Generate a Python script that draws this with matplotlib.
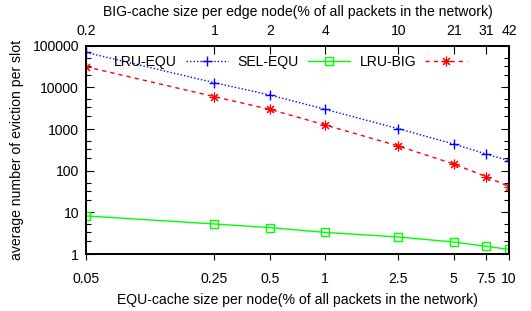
import matplotlib
matplotlib.use("Agg")
import matplotlib.pyplot as plt
from matplotlib.ticker import LogLocator, NullFormatter, FixedLocator, FixedFormatter

plt.rcParams['font.family'] = ['Liberation Sans', 'DejaVu Sans']

equ_sizes = [0.05, 0.25, 0.5, 1, 2.5, 5, 7.5, 10]
equ_labels = ["0.05", "0.25", "0.5", "1", "2.5", "5", "7.5", "10"]
big_labels = ["0.2", "1", "2", "4", "10", "21", "31", "42"]

lru_equ = [69000, 12900, 6560, 2970, 1020, 437, 251, 174]
sel_equ = [8.2, 5.25, 4.3, 3.3, 2.56, 1.94, 1.53, 1.29]
lru_big = [31300, 5970, 2970, 1250, 391, 145, 72, 41.5]

FS = 10.1
W, H = 531, 311
fig = plt.figure(figsize=(W / 100, H / 100), dpi=100)
ax = fig.add_axes([86 / W, 1 - 254 / H, (509 - 86) / W, (254 - 45.7) / H])

ax.plot(equ_sizes, lru_equ, color='#0000ff', lw=1.0, ls=(0, (1, 1.5)),
        marker='+', ms=7, mew=1.0, label='LRU-EQU')
ax.plot(equ_sizes, sel_equ, color='#00ff00', lw=1.0, ls='-',
        marker='s', ms=6, mfc='none', mew=1.0, label='SEL-EQU')
ax.plot(equ_sizes, lru_big, color='#ff0000', lw=1.0, ls=(0, (3, 3)),
        marker=(8, 2, 0), ms=7, mew=0.8, label='LRU-BIG')

ax.set_xscale('log')
ax.set_yscale('log')
ax.set_xlim(0.05, 10)
ax.set_ylim(1, 100000)

ax.xaxis.set_major_locator(FixedLocator(equ_sizes))
ax.xaxis.set_major_formatter(FixedFormatter(equ_labels))
ax.xaxis.set_minor_locator(FixedLocator([]))
ax.yaxis.set_minor_locator(LogLocator(base=10, subs=(2, 3.3, 5.2), numticks=10))
ax.yaxis.set_minor_formatter(NullFormatter())
ax.set_yticks([1, 10, 100, 1000, 10000, 100000])
ax.set_yticklabels(["1", "10", "100", "1000", "10000", "100000"])

ax.tick_params(axis='x', which='major', direction='out', length=4.5, width=0.8,
               pad=8.5, labelsize=FS, top=False)
ax.tick_params(axis='y', which='major', direction='in', length=6, width=0.8,
               pad=5, labelsize=FS, right=True)
ax.tick_params(axis='y', which='minor', direction='in', length=3.5, width=0.8, right=True)

for s in ax.spines.values():
    s.set_linewidth(1.3)

ax.set_xlabel("EQU-cache size per node(% of all packets in the network)", fontsize=FS, labelpad=5)
ax.set_ylabel("average number of eviction per slot", fontsize=FS, labelpad=6)

ax2 = ax.twiny()
ax2.set_xscale('log')
ax2.set_xlim(ax.get_xlim())
ax2.xaxis.set_major_locator(FixedLocator(equ_sizes))
ax2.xaxis.set_major_formatter(FixedFormatter(big_labels))
ax2.xaxis.set_minor_locator(FixedLocator([]))
ax2.tick_params(axis='x', which='major', direction='in', length=6, width=0.8,
                pad=5.5, labelsize=FS)
ax2.set_xlabel("BIG-cache size per edge node(% of all packets in the network)", fontsize=FS, labelpad=5.5)
for s in ax2.spines.values():
    s.set_linewidth(1.3)

ax.legend(ncol=3, markerfirst=False, frameon=False, loc='center',
          bbox_to_anchor=((290.5 - 86) / 423, (254 - 62) / 208.3),
          fontsize=FS, handlelength=3.0, handletextpad=0.67, columnspacing=0.67,
          borderpad=0, borderaxespad=0)

fig.savefig("out.png", dpi=100)
